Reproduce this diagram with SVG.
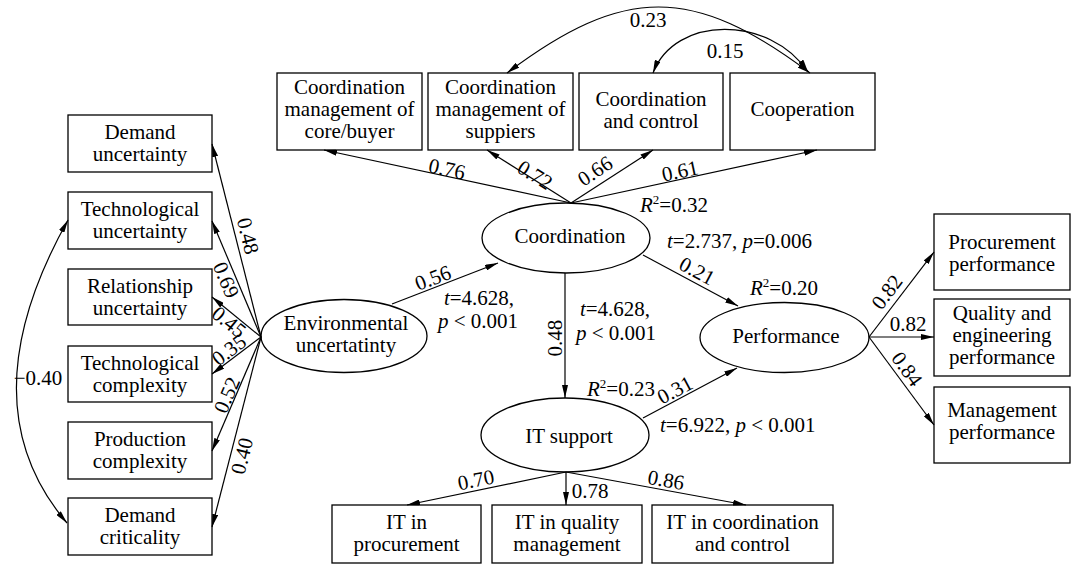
<svg xmlns="http://www.w3.org/2000/svg" width="1072" height="565" viewBox="0 0 1072 565">
<style>
.box{fill:#fff;stroke:#000;stroke-width:1.3}
.ell{fill:#fff;stroke:#000;stroke-width:1.3}
.ln{stroke:#000;stroke-width:1.2;fill:none;marker-end:url(#ah)}
.cv{stroke:#000;stroke-width:1.2;fill:none;marker-start:url(#ah);marker-end:url(#ah)}
text{font-family:"Liberation Serif","Times New Roman",serif;font-size:21px;fill:#000}
.c{text-anchor:middle}
.i{font-style:italic}
</style>
<defs>
<marker id="ah" viewBox="0 0 13 6" refX="13" refY="3" markerWidth="13" markerHeight="6" markerUnits="userSpaceOnUse" orient="auto-start-reverse"><path d="M0,0 L13,3 L0,6 z" fill="#000"/></marker>
</defs>
<rect width="1072" height="565" fill="#fff"/>

<g id="cm-core"><rect class="box" x="277" y="73" width="145" height="77"/><text class="c" x="349.5" y="94">Coordination</text><text class="c" x="349.5" y="116">management of</text><text class="c" x="349.5" y="138">core/buyer</text></g>
<g id="cm-supp"><rect class="box" x="428" y="73" width="145" height="77"/><text class="c" x="500.5" y="94">Coordination</text><text class="c" x="500.5" y="116">management of</text><text class="c" x="500.5" y="138">suppiers</text></g>
<g id="coord-control"><rect class="box" x="579" y="73" width="144" height="77"/><text class="c" x="651" y="106">Coordination</text><text class="c" x="651" y="128">and control</text></g>
<g id="cooperation"><rect class="box" x="730" y="73" width="145" height="77"/><text class="c" x="802.5" y="116">Cooperation</text></g>

<g id="demand-unc"><rect class="box" x="68" y="115" width="144" height="57"/><text class="c" x="140" y="139">Demand</text><text class="c" x="140" y="161">uncertainty</text></g>
<g id="tech-unc"><rect class="box" x="68" y="192" width="144" height="57"/><text class="c" x="140" y="216">Technological</text><text class="c" x="140" y="238">uncertainty</text></g>
<g id="rel-unc"><rect class="box" x="68" y="269" width="144" height="56"/><text class="c" x="140" y="292.5">Relationship</text><text class="c" x="140" y="314.5">uncertainty</text></g>
<g id="tech-comp"><rect class="box" x="68" y="346" width="144" height="56"/><text class="c" x="140" y="369.5">Technological</text><text class="c" x="140" y="391.5">complexity</text></g>
<g id="prod-comp"><rect class="box" x="68" y="422" width="144" height="57"/><text class="c" x="140" y="446">Production</text><text class="c" x="140" y="468">complexity</text></g>
<g id="demand-crit"><rect class="box" x="68" y="498" width="144" height="57"/><text class="c" x="140" y="522">Demand</text><text class="c" x="140" y="544">criticality</text></g>

<g id="env"><ellipse class="ell" cx="344" cy="336" rx="83" ry="36.5"/><text class="c" x="346" y="329.5">Environmental</text><text class="c" x="346" y="351.5">uncertatinty</text></g>
<g id="coordination"><ellipse class="ell" cx="566" cy="238" rx="84" ry="35"/><text class="c" x="570" y="243">Coordination</text></g>
<g id="performance"><ellipse class="ell" cx="784.5" cy="337.5" rx="84.5" ry="35"/><text class="c" x="786" y="343">Performance</text></g>
<g id="it-support"><ellipse class="ell" cx="565" cy="435" rx="84" ry="37"/><text class="c" x="569" y="443">IT support</text></g>

<g id="proc-perf"><rect class="box" x="934" y="214" width="136" height="76"/><text class="c" x="1002" y="248.5">Procurement</text><text class="c" x="1002" y="270.5">performance</text></g>
<g id="qual-perf"><rect class="box" x="934" y="299" width="136" height="77"/><text class="c" x="1002" y="320">Quality and</text><text class="c" x="1002" y="342">engineering</text><text class="c" x="1002" y="364">performance</text></g>
<g id="mgmt-perf"><rect class="box" x="934" y="387" width="136" height="76"/><text class="c" x="1002" y="417">Management</text><text class="c" x="1002" y="439">performance</text></g>

<g id="it-proc"><rect class="box" x="332" y="505" width="149" height="58"/><text class="c" x="406.5" y="529">IT in</text><text class="c" x="406.5" y="551">procurement</text></g>
<g id="it-qual"><rect class="box" x="492" y="505" width="150" height="58"/><text class="c" x="567" y="529">IT in quality</text><text class="c" x="567" y="551">management</text></g>
<g id="it-coord"><rect class="box" x="652" y="505" width="181" height="58"/><text class="c" x="742.5" y="529">IT in coordination</text><text class="c" x="742.5" y="551">and control</text></g>

<g id="connectors">
<path class="ln" d="M571,203 L324,150"/>
<path class="ln" d="M571,203 L487,150"/>
<path class="ln" d="M571,203 L653,150"/>
<path class="ln" d="M571,203 L817,150"/>
<path class="ln" d="M261,337 L212,144"/>
<path class="ln" d="M261,337 L212,221"/>
<path class="ln" d="M261,337 L212,297"/>
<path class="ln" d="M261,337 L212,374"/>
<path class="ln" d="M261,337 L212,451"/>
<path class="ln" d="M261,337 L212,527"/>
<path class="ln" d="M392,304 L498,263"/>
<path class="ln" d="M565,273 L565,398"/>
<path class="ln" d="M643,255 L738,306"/>
<path class="ln" d="M643,418 L737,368"/>
<path class="ln" d="M869,337 L934,252"/>
<path class="ln" d="M869,337 L934,337"/>
<path class="ln" d="M869,337 L934,425"/>
<path class="ln" d="M566,472 L407,505"/>
<path class="ln" d="M566,472 L566,505"/>
<path class="ln" d="M566,472 L746,505"/>
<path class="cv" d="M507,73 C624,-15 693,-15 810,73"/>
<path class="cv" d="M653,73 C675,15 770,15 808,72"/>
<path class="cv" d="M68,220 C12,320 -12,430 67,523"/>
</g>

<g id="labels">
<text class="c" x="648" y="27">0.23</text>
<text class="c" x="725" y="58">0.15</text>
<text class="c" transform="translate(447,169) rotate(12)" y="7">0.76</text>
<text class="c" transform="translate(535,175) rotate(32)" y="7">0.72</text>
<text class="c" transform="translate(595,171) rotate(-33)" y="7">0.66</text>
<text class="c" transform="translate(680,171) rotate(-12)" y="7">0.61</text>
<text x="640" y="212"><tspan class="i">R</tspan><tspan dy="-8" font-size="13">2</tspan><tspan dy="8">=0.32</tspan></text>
<text x="667" y="248"><tspan class="i">t</tspan>=2.737, <tspan class="i">p</tspan>=0.006</text>
<text class="c" transform="translate(697,271) rotate(28)" y="7">0.21</text>
<text x="750" y="295"><tspan class="i">R</tspan><tspan dy="-8" font-size="13">2</tspan><tspan dy="8">=0.20</tspan></text>
<text class="c" transform="translate(433,278) rotate(-21)" y="7">0.56</text>
<text class="c" x="479" y="305"><tspan class="i">t</tspan>=4.628,</text>
<text class="c" x="478" y="328"><tspan class="i">p</tspan> &lt; 0.001</text>
<text class="c" transform="translate(555,338) rotate(-90)" y="7">0.48</text>
<text class="c" x="615" y="316"><tspan class="i">t</tspan>=4.628,</text>
<text class="c" x="616" y="340"><tspan class="i">p</tspan> &lt; 0.001</text>
<text x="587" y="396"><tspan class="i">R</tspan><tspan dy="-8" font-size="13">2</tspan><tspan dy="8">=0.23</tspan></text>
<text class="c" transform="translate(675,390) rotate(-28)" y="7">0.31</text>
<text x="660" y="432"><tspan class="i">t</tspan>=6.922, <tspan class="i">p</tspan> &lt; 0.001</text>
<text class="c" transform="translate(887,292) rotate(-53)" y="7">0.82</text>
<text class="c" x="908" y="331">0.82</text>
<text class="c" transform="translate(907,369) rotate(54)" y="7">0.84</text>
<text class="c" transform="translate(476,480) rotate(-11)" y="7">0.70</text>
<text class="c" x="590" y="498">0.78</text>
<text class="c" transform="translate(666,480) rotate(10)" y="7">0.86</text>
<text class="c" transform="translate(248,236) rotate(76)" y="7">0.48</text>
<text class="c" transform="translate(226,280) rotate(67)" y="7">0.69</text>
<text class="c" transform="translate(229,322) rotate(39)" y="7">0.45</text>
<text class="c" transform="translate(229,350) rotate(-37)" y="7">0.35</text>
<text class="c" transform="translate(227,395) rotate(-67)" y="7">0.52</text>
<text class="c" transform="translate(242,456) rotate(-76)" y="7">0.40</text>
<text class="c" x="38" y="385">−0.40</text>
</g>
</svg>
